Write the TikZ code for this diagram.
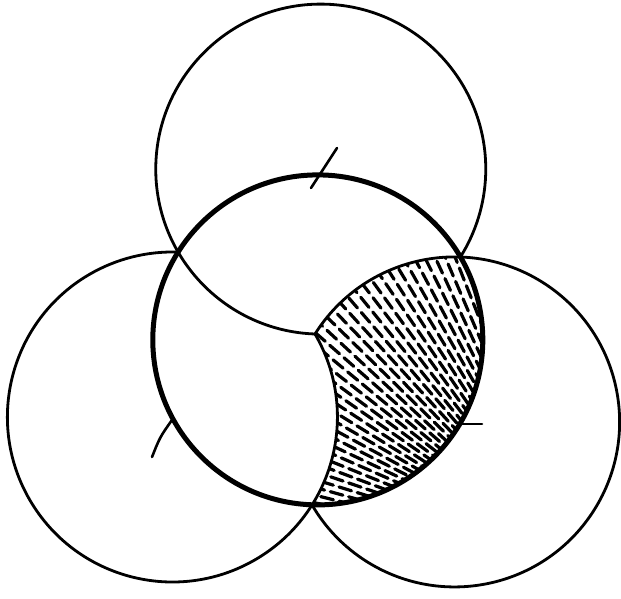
\documentclass[tikz,border=0pt]{standalone}
\begin{document}
\begin{tikzpicture}[x=1pt,y=-1pt,
  ringline/.style={line width=2.8pt,line cap=round},
  boldring/.style={line width=5pt},
  hatchline/.style={line width=3.2pt,line cap=round},
  tickline/.style={line width=2.6pt,line cap=round}]
\fill[white] (0,0) rectangle (621,599);
\useasboundingbox (0,0) rectangle (621,599);
% common point and centres
\coordinate (P) at (315,334);
\coordinate (A) at (320.8,169.1);
\coordinate (B) at (172.4,416.9);
\coordinate (C) at (454.6,421.9);
\coordinate (O) at (317.8,339.9);
\coordinate (F) at (575,560);
% hatched region: inside bold circle and right circle, outside left circle
\begin{scope}
  \clip (P) arc[start angle=212.2,end angle=272,radius=165]
            arc[start angle=-30.2,end angle=92,radius=165]
            arc[start angle=32.2,end angle=-30.2,radius=165] -- cycle;
  \foreach \i in {0,...,42} {
    \pgfmathsetmacro{\ang}{186+1.6*\i}
    \pgfmathsetmacro{\ph}{mod(\i*7,18)}
    \draw[hatchline,dash pattern=on 13pt off 6pt,dash phase=\ph pt] (F) -- ++(\ang:440);
  }
\end{scope}
% three circles through P, each missing the arc lying inside the next one
\draw[ringline] (P) arc[start angle=92,end angle=392.2,radius=165];
\draw[ringline] (P) arc[start angle=-30.2,end angle=272,radius=165];
\draw[ringline] (P) arc[start angle=212.2,end angle=509.8,radius=165];
% bold circle
\draw[boldring] (O) circle[radius=165];
% tick marks
\coordinate (t1a) at (337,148);
\coordinate (t1b) at (311,188);
\coordinate (t2a) at (172,420);
\coordinate (t2b) at (152,457);
\coordinate (t3a) at (459,424);
\coordinate (t3b) at (482,424);
\draw[tickline] (t1a) -- (t1b);
\draw[tickline] (t2a) .. controls (160,437) .. (t2b);
\draw[tickline] (t3a) -- (t3b);
\end{tikzpicture}
\end{document}
